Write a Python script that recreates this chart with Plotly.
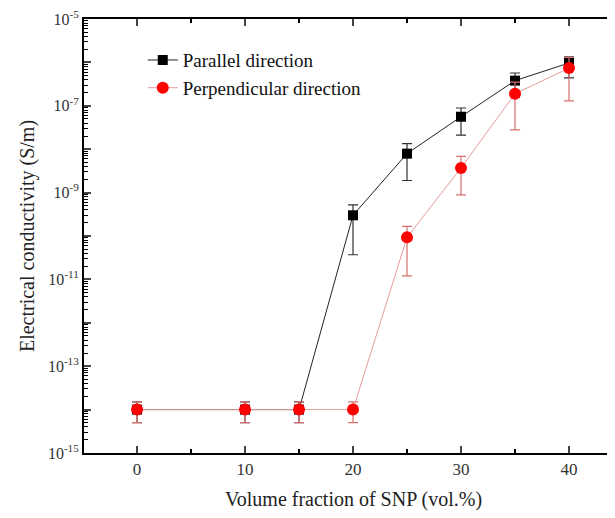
import plotly.graph_objects as go

x_vals = [0, 10, 15, 20, 25, 30, 35, 40]

par_y = [1e-14, 1e-14, 1e-14, 3.0e-10, 7.9e-9, 5.6e-8, 3.8e-7, 9.7e-7]
par_hi = [1.5e-14, 1.5e-14, 1.5e-14, 5.2e-10, 1.35e-8, 8.9e-8, 5.7e-7, 1.35e-6]
par_lo = [5e-15, 5e-15, 5e-15, 3.7e-11, 1.9e-9, 2.1e-8, 1.6e-7, 4.4e-7]

per_y = [1e-14, 1e-14, 1e-14, 1e-14, 9.3e-11, 3.7e-9, 1.9e-7, 7.4e-7]
per_hi = [1.5e-14, 1.5e-14, 1.5e-14, 1.5e-14, 1.66e-10, 6.8e-9, 3.5e-7, 1.3e-6]
per_lo = [5e-15, 5e-15, 5e-15, 5e-15, 1.2e-11, 8.9e-10, 2.8e-8, 1.3e-7]

x_tick_vals = [0, 10, 20, 30, 40]
x_minor_vals = [5, 15, 25, 35]
y_exponents = [-15, -14, -13, -12, -11, -10, -9, -8, -7, -6, -5]

FONT = "Liberation Serif, Times New Roman, serif"

fig = go.Figure()

fig.add_trace(go.Scatter(
    x=x_vals, y=par_y, mode="lines+markers", name="Parallel direction",
    line=dict(color="#222222", width=1),
    marker=dict(symbol="square", size=10, color="black"),
    error_y=dict(type="data", symmetric=False,
                 array=[h - v for h, v in zip(par_hi, par_y)],
                 arrayminus=[v - l for v, l in zip(par_y, par_lo)],
                 color="#333333", thickness=1.2, width=5),
))
fig.add_trace(go.Scatter(
    x=x_vals, y=per_y, mode="lines+markers", name="Perpendicular direction",
    line=dict(color="#e89a9a", width=1),
    marker=dict(symbol="circle", size=12, color="#ff0000"),
    error_y=dict(type="data", symmetric=False,
                 array=[h - v for h, v in zip(per_hi, per_y)],
                 arrayminus=[v - l for v, l in zip(per_y, per_lo)],
                 color="#d87070", thickness=1.2, width=5),
))
# invisible trace to carry the top axis
fig.add_trace(go.Scatter(x=[0], y=[1e-10], xaxis="x2", mode="markers",
                         marker=dict(opacity=0), showlegend=False, hoverinfo="skip"))

tickvals_y = [10.0 ** e for e in y_exponents]
ticktext_y = [f"10<sup>{e}</sup>" if e % 2 != 0 else "" for e in y_exponents]
minor_y = [k * 10.0 ** e for e in y_exponents[:-1] for k in range(2, 10)]

xr = [-4.91, 45.0]
fig.update_layout(
    width=615, height=518,
    margin=dict(l=76, r=0, t=11, b=73),
    paper_bgcolor="white", plot_bgcolor="white",
    font=dict(family=FONT, color="#222222"),
    showlegend=True,
    legend=dict(x=0.109, y=0.949, xanchor="left", yanchor="top",
                bgcolor="rgba(0,0,0,0)", font=dict(size=19, family=FONT, color="#111111"),
                tracegroupgap=0),
    xaxis=dict(range=xr, tickvals=x_tick_vals, ticks="inside", ticklen=7, tickwidth=2,
               automargin=False,
               showline=True, linecolor="black", linewidth=2, showgrid=False, zeroline=False,
               tickfont=dict(size=17, family=FONT, color="#333333"),
               title=dict(text="Volume fraction of SNP (vol.%)", font=dict(size=20, family=FONT, color="#222222"), standoff=14),
               minor=dict(tickvals=x_minor_vals, ticks="inside", ticklen=4, tickwidth=1.5, tickcolor="black")),
    xaxis2=dict(range=xr, overlaying="x", side="top", anchor="y", tickvals=x_tick_vals,
                automargin=False,
                ticks="inside", ticklen=7, tickwidth=2, showticklabels=False,
                showline=True, linecolor="black", linewidth=2, showgrid=False, zeroline=False,
                minor=dict(tickvals=x_minor_vals, ticks="inside", ticklen=4, tickwidth=1.5, tickcolor="black")),
    yaxis=dict(type="log", range=[-15, -5], tickvals=tickvals_y, ticktext=ticktext_y,
               automargin=False, ticklabeloverflow="allow",
               ticks="inside", ticklen=7, tickwidth=2,
               showline=True, linecolor="black", linewidth=2, showgrid=False, zeroline=False,
               tickfont=dict(size=16, family=FONT, color="#333333"),
               title=dict(text="Electrical conductivity (S/m)", font=dict(size=20, family=FONT, color="#222222"), standoff=8),
               minor=dict(tickvals=minor_y, ticks="inside", ticklen=4, tickwidth=1, tickcolor="black")),
)

fig.write_html("out.html")
